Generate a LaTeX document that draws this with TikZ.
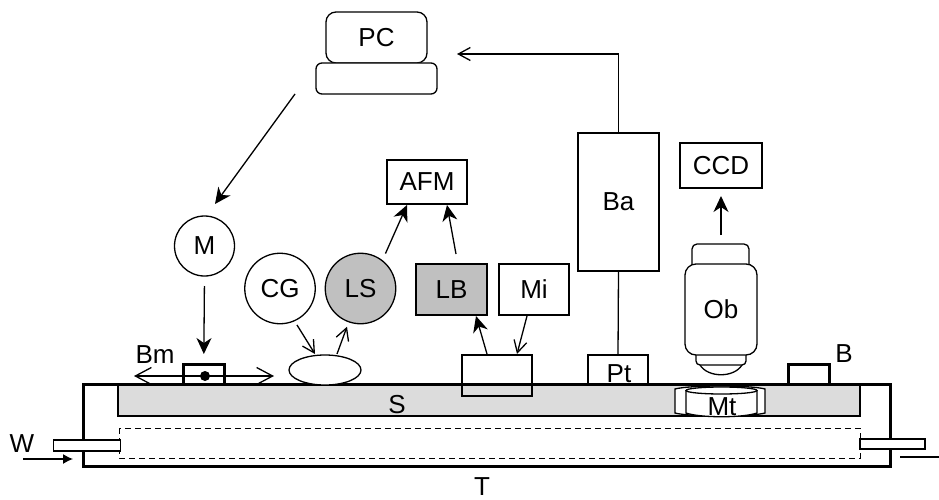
\documentclass[tikz,border=0pt]{standalone}
\usepackage{fontspec}
\setmainfont{Liberation Sans}
\definecolor{fillStage}{HTML}{DCDCDC}
\definecolor{fillDark}{HTML}{C0C0C0}
\usetikzlibrary{arrows.meta, shapes.geometric}
\tikzset{
  boxNode/.style={draw, line width=1.3pt, inner sep=0pt, outer sep=0pt},
  roundNode/.style={draw, circle, line width=1.3pt, inner sep=0pt, outer sep=0pt},
  thickBox/.style={draw, line width=3pt, inner sep=0pt, outer sep=0pt},
  textNode/.style={inner sep=0pt, outer sep=0pt},
  openArrow/.style={line width=1.3pt, -{Straight Barb[length=12pt, width=13pt, line width=1.3pt]}},
  solidArrow/.style={line width=1.3pt, -{Stealth[length=16pt, width=15pt, inset=5pt]}}
}
\begin{document}
\begin{tikzpicture}[x=1pt, y=-1pt, every node/.style={font=\fontsize{26}{30}\selectfont}]
  \useasboundingbox (0,0) rectangle (939,500);

  \node[boxNode, fill=fillStage, minimum width=742pt, minimum height=32pt] (Stage) at (489,400) {};
  \draw[line width=1pt, dash pattern=on 6pt off 4pt] (119,428) rectangle (860,458);

  \draw[line width=1.3pt, fill=white] (675,389) -- (675,413) .. controls (690,417) and (750,417) .. (765,413) -- (765,389) .. controls (750,385) and (690,385) .. (675,389) -- cycle;
  \draw[line width=1.3pt, fill=white] (686,390) -- (686,413) .. controls (700,418) and (743,418) .. (757,413) -- (757,390);
  \draw[line width=1.3pt, fill=white] (721.5,390.5) ellipse [x radius=35.5, y radius=3.5];

  \draw[line width=3pt] (83,384) rectangle (890,466);
  \node[boxNode, fill=white, minimum width=67pt, minimum height=11pt] (InletW) at (87,445.5) {};
  \node[boxNode, fill=white, minimum width=65pt, minimum height=10pt] (OutletT) at (892.5,444) {};

  \node[textNode] at (397,405) {S};
  \node[textNode] at (722,407) {Mt};
  \node[textNode] (LabelW) at (22,444) {W};
  \node[textNode] (LabelT) at (482,487) {T};
  \node[textNode] (LabelBm) at (155,355) {Bm};
  \node[textNode] (LabelB) at (844,354) {B};

  \coordinate (WStart) at (23,459);
  \coordinate (WEnd) at (73,459);
  \coordinate (TStart) at (900,457);
  \coordinate (TEnd) at (939,457);
  \coordinate (BmLeft) at (134,376);
  \coordinate (BmRight) at (274,376);

  \draw[line width=1.3pt, -{Latex[length=10pt, width=10pt]}] (WStart) -- (WEnd);
  \draw[line width=1.3pt] (TStart) -- (TEnd);

  \draw[line width=1.3pt, {Straight Barb[length=16pt, width=17pt, line width=1.3pt]}-{Straight Barb[length=16pt, width=17pt, line width=1.3pt]}] (BmLeft) -- (BmRight);
  \node[thickBox, minimum width=40.5pt, minimum height=20pt] (BmBox) at (203.75,374) {};
  \fill (205,376) circle (5);
  \node[thickBox, fill=white, minimum width=41pt, minimum height=20pt] (BBox) at (808.5,374) {};

  \node[draw, ellipse, fill=white, line width=1.3pt, inner sep=0pt, outer sep=0pt, minimum width=72pt, minimum height=30pt] (Cell) at (325,370) {};
  \node[boxNode, minimum width=70pt, minimum height=41pt] (Probe) at (497,375.5) {};
  \node[boxNode, fill=white, minimum width=60pt, minimum height=29pt] (Pt) at (618,369.5) {};
  \node[textNode] at (619,373.5) {Pt};

  \node[boxNode, minimum width=81pt, minimum height=138pt] (Ba) at (618.5,202) {Ba};
  \node[boxNode, minimum width=80pt, minimum height=44pt] (AFM) at (427,182) {AFM};
  \node[boxNode, minimum width=82pt, minimum height=45pt] (CCD) at (721,165.5) {CCD};
  \node[boxNode, fill=fillDark, minimum width=71pt, minimum height=51pt] (LB) at (451.5,289.5) {LB};
  \node[boxNode, minimum width=70pt, minimum height=51pt] (Mi) at (534,289.5) {Mi};
  \node[roundNode, minimum size=60pt] (M) at (204.5,246) {M};
  \node[roundNode, minimum size=70.5pt] (CG) at (280,288.5) {CG};
  \node[roundNode, fill=fillDark, minimum size=70.5pt] (LS) at (360.5,288.5) {LS};

  \node[boxNode, fill=white, rounded corners=10pt, minimum width=101pt, minimum height=51pt] (PC) at (376.5,37.5) {PC};
  \node[boxNode, fill=white, rounded corners=6pt, minimum width=121pt, minimum height=31pt] (Keyboard) at (376.5,78.5) {};

  \draw[line width=1.3pt, rounded corners=5pt] (692,264) -- (692,244) -- (749,244) -- (749,264);
  \draw[line width=1.3pt, rounded corners=4pt] (696,355) -- (696,365) -- (746,365) -- (746,355);
  \draw[line width=1.3pt] (700,365) .. controls (708,378) and (734,378) .. (742,365);
  \node[boxNode, fill=white, rounded corners=11pt, minimum width=72pt, minimum height=91pt] (Ob) at (721,309.5) {Ob};

  \draw[solidArrow] ([xshift=-21pt]Keyboard.south west) -- ([shift={(10.5pt,12pt)}]M.north);
  \draw[solidArrow, shorten <=10pt, shorten >=10pt] (M.south) -- (BmBox.north);
  \draw[openArrow] (Ba.north) |- ([yshift=-16.5pt, xshift=30pt]PC.east);
  \draw[line width=1.3pt] (Ba.south) -- (Pt.north);
  \draw[solidArrow] ([yshift=10pt]LS.45) -- ([xshift=-20pt, yshift=-1pt]AFM.south);
  \draw[solidArrow] ([xshift=4.5pt, yshift=10pt]LB.north) -- ([xshift=20pt, yshift=-1pt]AFM.south);
  \draw[openArrow, shorten <=5pt] (CG.-66) -- ([xshift=-10pt, yshift=1pt]Cell.north);
  \draw[openArrow] ([xshift=12pt, yshift=1pt]Cell.north) -- ([xshift=-13.5pt, yshift=-3pt]LS.south);
  \draw[solidArrow] ([xshift=-10pt, yshift=1pt]Probe.north) -- ([xshift=24.5pt, yshift=-1pt]LB.south);
  \draw[openArrow] ([xshift=-7pt, yshift=-1pt]Mi.south) -- ([xshift=20pt, yshift=1pt]Probe.north);
  \draw[solidArrow] ([yshift=29pt]Ob.north) -- ([yshift=-8pt]CCD.south);
\end{tikzpicture}
\end{document}
